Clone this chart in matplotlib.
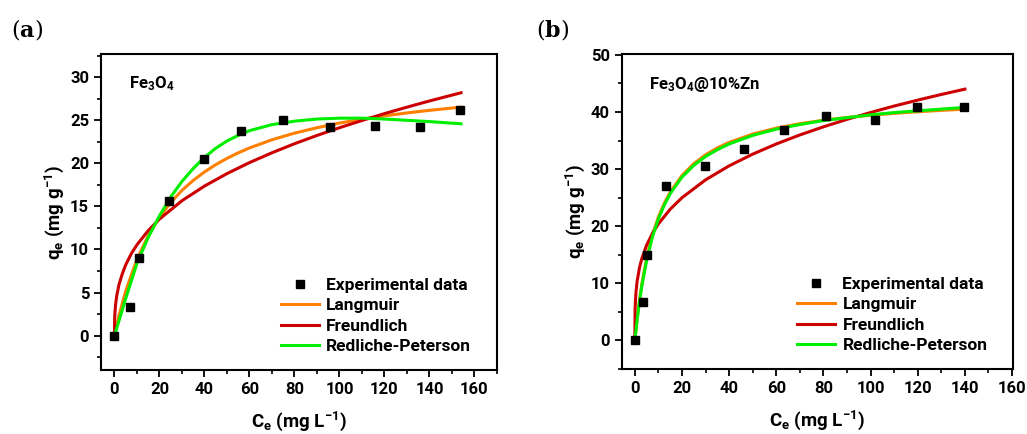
import numpy as np
import matplotlib
matplotlib.use("Agg")
import matplotlib.pyplot as plt
from matplotlib.ticker import MultipleLocator

SANS = "Roboto"
plt.rcParams["font.family"] = [SANS, "DejaVu Sans"]
plt.rcParams["font.weight"] = "bold"
plt.rcParams["mathtext.fontset"] = "custom"
plt.rcParams["mathtext.rm"] = SANS + ":bold"
plt.rcParams["mathtext.it"] = SANS + ":bold"
plt.rcParams["mathtext.bf"] = "DejaVu Serif:bold"
plt.rcParams["mathtext.default"] = "rm"

# ---- panel (a): Fe3O4 ----
ce_a = [0, 6.8, 10.8, 24.4, 39.7, 56.3, 75.0, 95.7, 115.6, 135.7, 153.5]
qe_a = [0, 3.3, 9.0, 15.6, 20.5, 23.8, 25.0, 24.2, 24.3, 24.2, 26.2]

fit_x_a = [0, 2, 5, 10, 15, 20, 25, 30, 35, 40, 45, 50, 55, 60, 70, 80, 90, 100,
           110, 120, 130, 140, 154]
lang_a = [0, 2.30, 5.17, 8.85, 11.6, 13.75, 15.45, 16.86, 18.02, 19.0, 19.85, 20.58,
          21.22, 21.79, 22.74, 23.51, 24.14, 24.68, 25.13, 25.52, 25.86, 26.16, 26.53]
redp_a = [0, 1.7, 4.3, 8.4, 11.4, 13.9, 16.1, 17.9, 19.4, 20.7, 21.75, 22.6,
          23.25, 23.8, 24.5, 24.9, 25.15, 25.25, 25.25, 25.15, 25.0, 24.85, 24.6]
fr_x_a = [0, 0.1, 0.25, 0.5, 1, 2, 3.5, 5, 7.5, 10, 15, 20, 30, 40, 50, 60, 70, 80,
          90, 100, 110, 120, 130, 140, 154]
freu_a = [0, 2.0, 2.79, 3.58, 4.6, 5.90, 7.18, 8.21, 9.52, 10.54, 12.19, 13.53, 15.66,
          17.36, 18.81, 20.09, 21.23, 22.28, 23.24, 24.14, 24.98, 25.78, 26.53, 27.25, 28.2]

# ---- panel (b): Fe3O4@10%Zn ----
ce_b = [0, 3.5, 5.2, 13.2, 29.7, 46.4, 63.3, 81.0, 101.7, 119.5, 139.6]
qe_b = [0, 6.8, 14.9, 27.0, 30.5, 33.6, 36.9, 39.3, 38.6, 40.8, 40.8]

fit_x_b = [0, 1, 2, 3, 5, 7.5, 10, 12.5, 15, 20, 25, 30, 35, 40, 50, 60, 70, 80, 90,
           100, 110, 120, 130, 140]
lang_b = [0, 3.92, 7.20, 9.97, 14.41, 18.54, 21.63, 24.02, 25.98, 28.87, 30.95, 32.5,
          33.72, 34.68, 36.13, 37.17, 37.95, 38.55, 39.04, 39.43, 39.76, 40.04, 40.28, 40.49]
redp_b = [0, 3.7, 6.9, 9.6, 14.0, 18.2, 21.3, 23.7, 25.7, 28.6, 30.65, 32.2,
          33.4, 34.4, 35.9, 37.0, 37.8, 38.5, 39.0, 39.5, 39.9, 40.2, 40.5, 40.8]
fr_x_b = [0, 0.1, 0.25, 0.5, 1, 2, 3, 5, 7.5, 10, 15, 20, 30, 40, 50, 60, 70, 80, 90,
          100, 110, 120, 130, 140]
freu_b = [0, 5.35, 6.98, 8.54, 10.45, 12.79, 14.39, 16.69, 18.78, 20.42, 22.98, 24.99,
          28.12, 30.57, 32.62, 34.40, 35.98, 37.40, 38.71, 39.91, 41.04, 42.08, 43.07, 44.0]

c_lang = "#ff7f00"
c_freu = "#cc0000"
c_redp = "#00ee00"

fig = plt.figure(figsize=(10.27, 4.34), dpi=100)
ax_a = fig.add_axes([0.0983, 0.1475, 0.3856, 0.728])
ax_b = fig.add_axes([0.6053, 0.1498, 0.3813, 0.7251])


def draw(ax, ce, qe, fx, lang, redp, frx, freu, label):
    ax.plot(fx, lang, color=c_lang, lw=2.2, label="Langmuir", zorder=2)
    ax.plot(frx, freu, color=c_freu, lw=2.2, label="Freundlich", zorder=2)
    ax.plot(fx, redp, color=c_redp, lw=2.2, label="Redliche-Peterson", zorder=3)
    ax.plot(ce, qe, "s", color="black", ms=5.5, ls="none",
            label="Experimental data", zorder=4)
    for s in ax.spines.values():
        s.set_linewidth(1.5)
    ax.tick_params(direction="out", length=5, width=1.3, labelsize=12,
                   top=False, right=False)
    ax.tick_params(which="minor", direction="out", length=3, width=1.2,
                   top=False, right=False)
    ax.set_xlabel(r"C$_\mathregular{e}$ (mg L$^\mathregular{-1}$)", fontsize=13.5,
                  fontweight="bold", labelpad=9)
    ax.set_ylabel(r"q$_\mathregular{e}$ (mg g$^\mathregular{-1}$)", fontsize=13.5,
                  fontweight="bold", labelpad=3)
    ax.text(0.07, 0.905, label, transform=ax.transAxes, fontsize=12,
            fontweight="bold", va="center")
    h, l = ax.get_legend_handles_labels()
    order = [3, 0, 1, 2]
    ax.legend([h[i] for i in order], [l[i] for i in order], loc="lower right",
              bbox_to_anchor=(0.965, 0.012), frameon=False, handlelength=2.2,
              handletextpad=0.4, labelspacing=0.3, borderaxespad=0.3,
              prop={"family": SANS, "weight": "bold", "size": 12.5})


draw(ax_a, ce_a, qe_a, fit_x_a, lang_a, redp_a, fr_x_a, freu_a, r"Fe$_3$O$_4$")
ax_a.set_xlim(-6, 170)
ax_a.set_ylim(-4, 32.7)
ax_a.xaxis.set_major_locator(MultipleLocator(20))
ax_a.xaxis.set_minor_locator(MultipleLocator(10))
ax_a.yaxis.set_major_locator(MultipleLocator(5))
ax_a.yaxis.set_minor_locator(MultipleLocator(2.5))

draw(ax_b, ce_b, qe_b, fit_x_b, lang_b, redp_b, fr_x_b, freu_b,
     r"Fe$_3$O$_4$@10%Zn")
ax_b.set_xlim(-5.6, 160.5)
ax_b.set_ylim(-5, 50.1)
ax_b.xaxis.set_major_locator(MultipleLocator(20))
ax_b.xaxis.set_minor_locator(MultipleLocator(10))
ax_b.yaxis.set_major_locator(MultipleLocator(10))
ax_b.yaxis.set_minor_locator(MultipleLocator(5))

for ax in (ax_a, ax_b):
    for lab in ax.get_xticklabels() + ax.get_yticklabels():
        lab.set_fontweight("bold")
        lab.set_family(SANS)

fig.text(0.011, 0.932, r"($\mathbf{a}$)", fontsize=16, family="DejaVu Serif",
         fontweight="normal", va="center")
fig.text(0.522, 0.932, r"($\mathbf{b}$)", fontsize=16, family="DejaVu Serif",
         fontweight="normal", va="center")

fig.savefig("out.png", dpi=100)
